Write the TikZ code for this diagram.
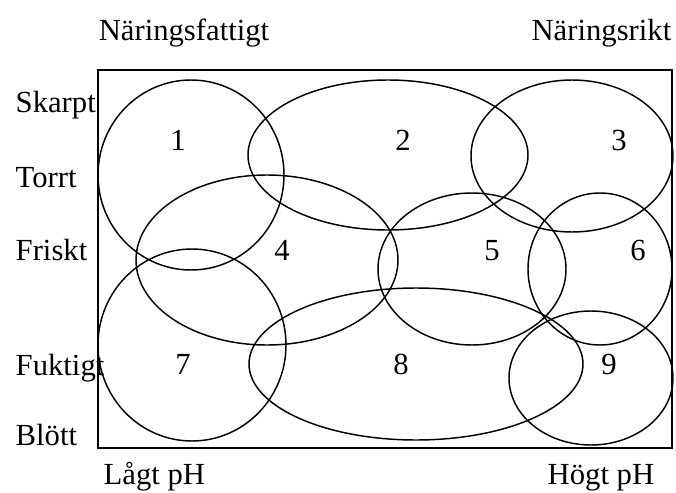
\documentclass[tikz,border=0pt]{standalone}
\usepackage{fontspec}
\setmainfont{Liberation Serif}
\begin{document}
\begin{tikzpicture}[x=0.75pt,y=-0.75pt,line width=1.1pt,
    every node/.style={font=\fontsize{23}{26}\selectfont,inner sep=0pt}]
    \useasboundingbox (0,0) rectangle (676,493);
    \draw[line width=0.9pt] (98,70) rectangle (672,448);
    % ellipses
    \draw (191,175) ellipse (93 and 95);
    \draw (388,155) ellipse (140 and 75);
    \draw (572,156) ellipse (101 and 76);
    \draw (267,260) ellipse (131 and 85);
    \draw (472,269) ellipse (94 and 76);
    \draw (600,269) ellipse (72 and 76);
    \draw (192,345) ellipse (94 and 96);
    \draw (416,364) ellipse (167 and 76);
    \draw (591,378) ellipse (82 and 67);
    % numbers
    \node[anchor=base] (n1) at (178,150) {1};
    \node[anchor=base] (n2) at (403,150) {2};
    \node[anchor=base] (n3) at (619,150) {3};
    \node[anchor=base] (n4) at (282,260) {4};
    \node[anchor=base] (n5) at (492,260) {5};
    \node[anchor=base] (n6) at (638,260) {6};
    \node[anchor=base] (n7) at (183,374) {7};
    \node[anchor=base] (n8) at (401,374) {8};
    \node[anchor=base] (n9) at (609,374) {9};
    % axis labels
    \node[anchor=base] (fattig) at (184,40) {Näringsfattigt};
    \node[anchor=base east] (rik) at (672,40) {Näringsrikt};
    \node[anchor=base west] (skarpt) at (15,112) {Skarpt};
    \node[anchor=base west] (torrt) at (15,187) {Torrt};
    \node[anchor=base west] (friskt) at (15,260) {Friskt};
    \node[anchor=base west] (fuktigt) at (15,375) {Fuktigt};
    \node[anchor=base west] (blott) at (15,445) {Blött};
    \node[anchor=base west] (lagt) at (103,484) {Lågt pH};
    \node[anchor=base west] (hogt) at (547,484) {Högt pH};
\end{tikzpicture}
\end{document}
